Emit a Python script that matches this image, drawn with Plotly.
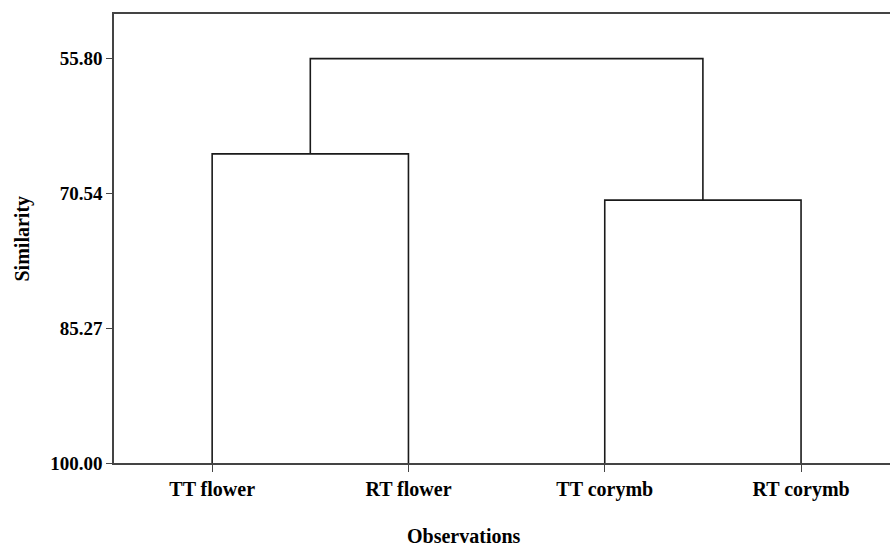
import plotly.graph_objects as go

# Data
labels = ["TT flower", "RT flower", "TT corymb", "RT corymb"]
leaf_positions = [1, 2, 3, 4]
leaf_similarity = 100.00
# merges: (left child pos, right child pos, left child height, right child height, merge height)
merge_left_x = [1, 3, 1.5]
merge_right_x = [2, 4, 3.5]
merge_left_h = [100.00, 100.00, 66.21]
merge_right_h = [100.00, 100.00, 71.27]
merge_h = [66.21, 71.27, 55.80]
y_tick_vals = [55.80, 70.54, 85.27, 100.00]
y_tick_text = ["55.80", "70.54", "85.27", "100.00"]

W, H = 890, 547
ML, MT, MB, MR = 114, 14, 84, 0
unit_px = 196.3
x_max = 0.5 + (W - ML - MR) / unit_px

fig = go.Figure()
for xl, xr, hl, hr, h in zip(merge_left_x, merge_right_x, merge_left_h, merge_right_h, merge_h):
    fig.add_trace(go.Scatter(
        x=[xl, xl, xr, xr], y=[hl, h, h, hr], mode="lines",
        line=dict(color="#1a1a1a", width=1.6), hoverinfo="skip", showlegend=False))

font_family = "Liberation Serif, Times New Roman, serif"
fig.update_layout(
    width=W, height=H,
    margin=dict(l=ML, r=MR, t=MT, b=MB),
    paper_bgcolor="white", plot_bgcolor="white",
    showlegend=False,
    font=dict(family=font_family, color="black"),
    xaxis=dict(
        range=[0.5, x_max], tickmode="array", tickvals=leaf_positions,
        ticktext=["<b>%s</b>" % t for t in labels],
        ticks="outside", ticklen=7, tickwidth=1.2, tickcolor="#444",
        showline=True, linecolor="#444", linewidth=1.5, mirror=True,
        showgrid=False, zeroline=False,
        tickfont=dict(size=20, family=font_family, color="black"),
    ),
    yaxis=dict(
        range=[100.0, 50.92], tickmode="array", tickvals=y_tick_vals,
        ticktext=["<b>%s</b>" % t for t in y_tick_text],
        ticks="outside", ticklen=6, tickwidth=1.2, tickcolor="#444",
        showline=True, linecolor="#444", linewidth=1.5, mirror=False,
        showgrid=False, zeroline=False,
        tickfont=dict(size=19, family=font_family, color="black"),
    ),
    annotations=[
        dict(text="<b>Observations</b>", xref="paper", yref="paper",
             x=(464 - ML) / (W - ML - MR), y=-(536 - (H - MB)) / (H - MT - MB),
             showarrow=False, font=dict(size=20, family=font_family, color="black"),
             xanchor="center", yanchor="middle"),
        dict(text="<b>Similarity</b>", xref="paper", yref="paper",
             x=-(ML - 22) / (W - ML - MR), y=0.5, textangle=-90,
             showarrow=False, font=dict(size=20, family=font_family, color="black"),
             xanchor="center", yanchor="middle"),
    ],
)

fig.write_html("out.html", config={"displayModeBar": False},
               post_script="document.body.style.margin='0';document.body.style.overflow='hidden';")
